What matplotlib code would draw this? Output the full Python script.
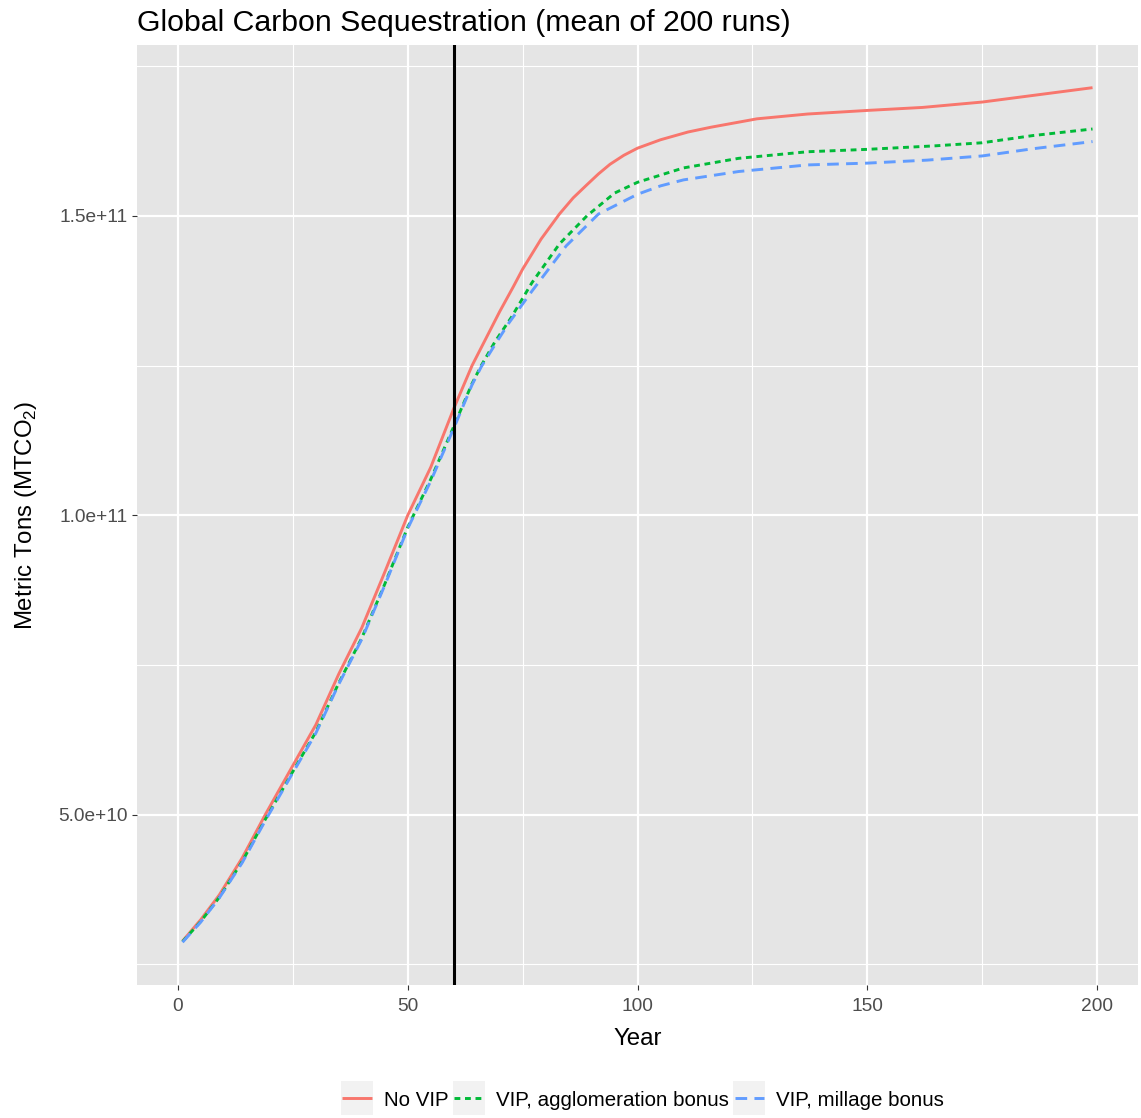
import matplotlib
matplotlib.use("Agg")
import matplotlib.pyplot as plt
from matplotlib.ticker import FuncFormatter, FixedLocator
from matplotlib.patches import Rectangle

plt.rcParams['font.family'] = ['Liberation Sans', 'DejaVu Sans']
plt.rcParams['mathtext.fontset'] = 'custom'
plt.rcParams['mathtext.rm'] = 'Liberation Sans'

# mean sequestration per scenario, in units of 1e10 metric tons
year_novip = [1, 5, 9, 14, 19, 25, 30, 35, 40, 45, 50, 55, 60, 64, 67, 70, 73,
              75, 79, 83, 86, 89, 91.5, 94, 97, 100, 105, 111, 116, 126, 137,
              150, 162, 175, 186, 199]
novip = [2.89, 3.25, 3.66, 4.28, 5.0, 5.82, 6.5, 7.35, 8.12, 9.05, 10.0, 10.8,
         11.78, 12.5, 12.95, 13.4, 13.82, 14.11, 14.61, 15.03, 15.3, 15.52,
         15.7, 15.86, 16.01, 16.13, 16.27, 16.4, 16.48, 16.62, 16.70, 16.76,
         16.81, 16.90, 17.01, 17.14]

year_agglom = [1, 5, 9, 14, 19, 25, 30, 35, 40, 45, 50, 55, 60, 64, 66, 69, 72.5,
               77, 83, 89, 95, 100, 105, 110, 122, 137, 150, 165, 175, 186, 199]
agglom = [2.88, 3.22, 3.62, 4.22, 4.92, 5.72, 6.38, 7.2, 7.95, 8.85, 9.8, 10.6,
          11.48, 12.2, 12.5, 12.9, 13.3, 13.88, 14.53, 15.0, 15.38, 15.56,
          15.68, 15.8, 15.96, 16.07, 16.11, 16.17, 16.22, 16.34, 16.45]

year_millage = [1, 5, 9, 14, 19, 25, 30, 35, 40, 45, 50, 55, 60, 64, 66, 69, 72,
                77, 84.5, 91.5, 100, 105, 110, 122, 137, 150, 163, 175, 186, 199]
millage = [2.87, 3.21, 3.61, 4.2, 4.9, 5.7, 6.36, 7.18, 7.93, 8.83, 9.78, 10.57,
           11.45, 12.18, 12.48, 12.85, 13.21, 13.74, 14.5, 15.03, 15.36, 15.5,
           15.6, 15.74, 15.85, 15.88, 15.93, 16.0, 16.12, 16.24]

policy_year = 60
labels = ["No VIP", "VIP, agglomeration bonus", "VIP, millage bonus"]
colors = ["#F8766D", "#00BA38", "#619CFF"]

scale = 1e10

fig = plt.figure(figsize=(11.41, 11.18), dpi=100)
ax = fig.add_axes([0.1201, 0.119, 0.8773, 0.8408])
ax.set_facecolor("#E5E5E5")

ax.plot(year_novip, [v * scale for v in novip], color=colors[0], lw=2.1,
        label=labels[0], solid_capstyle="butt")
ax.plot(year_agglom, [v * scale for v in agglom], color=colors[1], lw=2.1,
        dashes=(2.0, 1.6), label=labels[1])
ax.plot(year_millage, [v * scale for v in millage], color=colors[2], lw=2.1,
        dashes=(4.0, 2.5), label=labels[2])
ax.axvline(policy_year, color="black", lw=2.2)

# ggplot style 5% padding on both axes
allx = year_novip + year_agglom + year_millage
ally = [v * scale for v in novip + agglom + millage]
xpad = (max(allx) - min(allx)) * 0.05
ypad = (max(ally) - min(ally)) * 0.05
ax.set_xlim(min(allx) - xpad, max(allx) + xpad)
ax.set_ylim(min(ally) - ypad, max(ally) + ypad)

ax.xaxis.set_major_locator(FixedLocator([0, 50, 100, 150, 200]))
ax.xaxis.set_minor_locator(FixedLocator([25, 75, 125, 175]))
ax.yaxis.set_major_locator(FixedLocator([5e10, 1e11, 1.5e11]))
ax.yaxis.set_minor_locator(FixedLocator([2.5e10, 7.5e10, 1.25e11, 1.75e11]))
ax.yaxis.set_major_formatter(FuncFormatter(lambda v, pos: "{:.1e}".format(v)))
ax.xaxis.set_major_formatter(FuncFormatter(lambda v, pos: "%d" % v))

ax.grid(which="major", color="white", lw=1.6)
ax.grid(which="minor", color="white", lw=0.8)
ax.set_axisbelow(True)
for s in ax.spines.values():
    s.set_visible(False)
ax.tick_params(which="major", length=3.6, width=0.8, color="#333333",
               labelcolor="#4D4D4D", labelsize=13.8)
ax.tick_params(axis="x", which="major", pad=6)
ax.tick_params(axis="y", which="major", pad=3)
ax.tick_params(which="minor", length=0)

ax.set_xlabel("Year", fontsize=17.3, labelpad=9)
ax.set_ylabel(r"Metric Tons (MTCO$_\mathregular{2}$)", fontsize=17.3, labelpad=14)
ax.set_title("Global Carbon Sequestration (mean of 200 runs)", fontsize=21.8,
             loc="left", pad=10)

leg = fig.legend(loc="center", bbox_to_anchor=(0.5636, 0.016), ncol=3,
                 frameon=False, fontsize=14.8, handlelength=1.44,
                 handletextpad=0.58, columnspacing=0.29)

# grey key backgrounds behind each legend line
fig.canvas.draw()
renderer = fig.canvas.get_renderer()
for line in leg.get_lines():
    bb = line.get_window_extent(renderer)
    cx = (bb.x0 + bb.x1) / 2
    cy = (bb.y0 + bb.y1) / 2
    fig.patches.append(Rectangle((cx - 16, cy - 17), 32, 34, transform=None,
                                 facecolor="#F2F2F2", edgecolor="none",
                                 zorder=1, figure=fig))

fig.savefig("out.png", dpi=100)
